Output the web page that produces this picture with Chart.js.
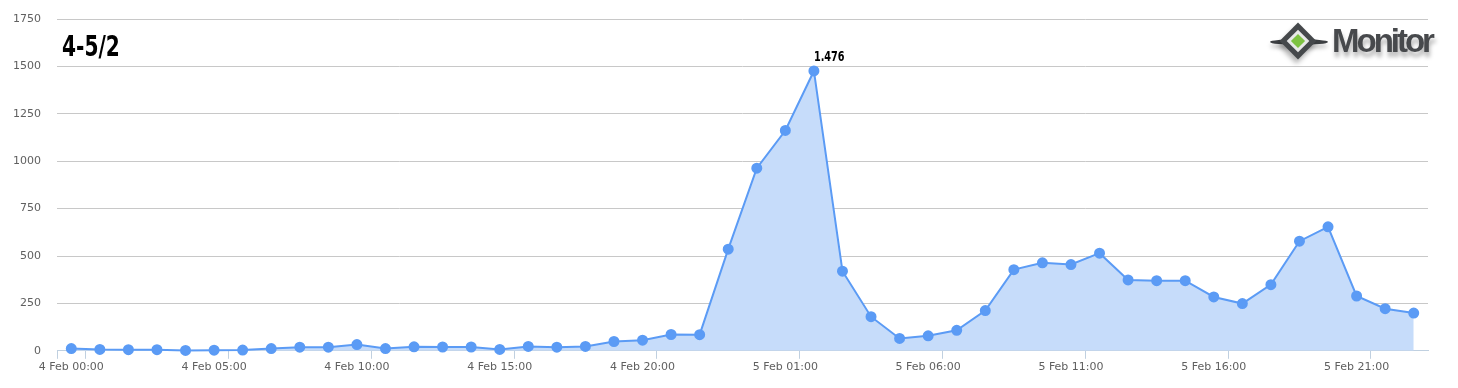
<!DOCTYPE html>
<html>
<head>
  <title>4-5/2</title>
  <script src="https://cdn.jsdelivr.net/npm/chart.js"></script>
  <style>
    body { margin: 0; background: #fff; }
    #wrap { position: relative; width: 1458px; height: 388px; }
    #title {
      position: absolute; left: 62px; top: 33px;
      font: bold 28px "Liberation Sans Narrow", "DejaVu Sans Condensed", sans-serif;
      line-height: 28px; color: #000;
      transform: scaleX(0.8); transform-origin: left top;
    }
    #logo { position: absolute; left: 1268px; top: 22px; height: 40px; width: 180px; }
    #logo .wing {
      position: absolute; left: 2px; top: 17px; width: 58px; height: 6px;
      border-radius: 50%; background: #3c3f42; box-shadow: 0 4px 4px rgba(0,0,0,0.25);
    }
    #logo .d1, #logo .d2, #logo .d3 { position: absolute; transform: rotate(45deg); }
    #logo .d1 { left: 17px; top: 6px; width: 26px; height: 26px; background: #45484b; box-shadow: 2px 4px 5px rgba(0,0,0,0.3); }
    #logo .d2 { left: 22px; top: 11px; width: 16px; height: 16px; background: #e8e8e8; }
    #logo .d3 { left: 25px; top: 14px; width: 10px; height: 10px; background: #7ec242; }
    #logo .txt {
      position: absolute; left: 64px; top: 0px;
      font: bold 33px "Liberation Sans", Arial, sans-serif; letter-spacing: -3px;
      color: #47494c; text-shadow: 1px 5px 4px rgba(0,0,0,0.3);
    }
  </style>
</head>
<body>
<div id="wrap">
  <canvas id="myChart"></canvas>
  <div id="title">4-5/2</div>
  <div id="logo"><div class="wing"></div><div class="d1"></div><div class="d2"></div><div class="d3"></div><div class="txt">Monitor</div></div>
</div>
<script>
  // hourly categories, 4 Feb 00:00 .. 5 Feb 23:00
  var hourLabels = [
    '4 Feb 00:00','4 Feb 01:00','4 Feb 02:00','4 Feb 03:00','4 Feb 04:00','4 Feb 05:00',
    '4 Feb 06:00','4 Feb 07:00','4 Feb 08:00','4 Feb 09:00','4 Feb 10:00','4 Feb 11:00',
    '4 Feb 12:00','4 Feb 13:00','4 Feb 14:00','4 Feb 15:00','4 Feb 16:00','4 Feb 17:00',
    '4 Feb 18:00','4 Feb 19:00','4 Feb 20:00','4 Feb 21:00','4 Feb 22:00','4 Feb 23:00',
    '5 Feb 00:00','5 Feb 01:00','5 Feb 02:00','5 Feb 03:00','5 Feb 04:00','5 Feb 05:00',
    '5 Feb 06:00','5 Feb 07:00','5 Feb 08:00','5 Feb 09:00','5 Feb 10:00','5 Feb 11:00',
    '5 Feb 12:00','5 Feb 13:00','5 Feb 14:00','5 Feb 15:00','5 Feb 16:00','5 Feb 17:00',
    '5 Feb 18:00','5 Feb 19:00','5 Feb 20:00','5 Feb 21:00','5 Feb 22:00','5 Feb 23:00'
  ];
  var mentions = [
    12, 7, 6, 6, 2, 3, 4, 12, 19, 19, 33, 12,
    21, 20, 20, 7, 23, 19, 23, 49, 56, 86, 85, 536,
    963, 1162, 1476, 420, 180, 65, 79, 108, 212, 428, 464, 455,
    515, 374, 370, 370, 284, 249, 349, 578, 654, 289, 222, 199
  ];
  var yTicks = [0, 250, 500, 750, 1000, 1250, 1500, 1750];
  var peakLabel = '1.476';

  var peakIndex = mentions.indexOf(Math.max.apply(null, mentions));

  // writes the peak value just above its point
  var peakPlugin = {
    id: 'peakLabel',
    afterDatasetsDraw: function(chart) {
      var pt = chart.getDatasetMeta(0).data[peakIndex];
      var ctx = chart.ctx;
      ctx.save();
      ctx.translate(pt.x, pt.y - 10);
      ctx.scale(0.77, 1);
      ctx.font = 'bold 14px "Liberation Sans Narrow", "DejaVu Sans Condensed", sans-serif';
      ctx.fillStyle = '#000';
      ctx.textAlign = 'left';
      ctx.textBaseline = 'alphabetic';
      ctx.fillText(peakLabel, 0, 0);
      ctx.restore();
    }
  };

  var ctx = document.getElementById('myChart').getContext('2d');
  new Chart(ctx, {
    type: 'line',
    data: {
      labels: hourLabels,
      datasets: [{
        data: mentions,
        borderColor: '#5b9bf5',
        backgroundColor: 'rgba(198,220,250,1)',
        pointBackgroundColor: '#5b9bf5',
        pointBorderColor: '#5b9bf5',
        pointRadius: 4.5,
        borderWidth: 2,
        tension: 0,
        fill: 'origin',
        clip: 8
      }]
    },
    plugins: [peakPlugin],
    options: {
      responsive: true,
      maintainAspectRatio: false,
      animation: false,
      layout: { autoPadding: false, padding: { left: 13, right: 30, top: 19, bottom: 12 } },
      plugins: { legend: { display: false }, tooltip: { enabled: false } },
      scales: {
        x: {
          offset: true,
          afterFit: function(axis) { axis.paddingLeft = 0; axis.paddingRight = 0; },
          grid: {
            offset: true,
            drawOnChartArea: false,
            tickLength: 8,
            color: function(c) { return (c.index === 0 || c.index % 5 === 1) ? '#c0d0e0' : 'rgba(0,0,0,0)'; }
          },
          border: { display: true, color: '#c0d0e0', width: 1 },
          ticks: {
            autoSkip: false,
            maxRotation: 0,
            padding: 2,
            color: '#606060',
            font: { family: 'DejaVu Sans', size: 11 },
            callback: function(v, i) { return i % 5 === 0 ? hourLabels[i] : ''; }
          }
        },
        y: {
          min: yTicks[0],
          max: yTicks[yTicks.length - 1],
          afterBuildTicks: function(axis) { axis.ticks = yTicks.map(function(v) { return { value: v }; }); },
          afterFit: function(axis) { axis.width = 44; axis.paddingTop = 0; axis.paddingBottom = 0; },
          grid: { color: '#c8c8c8', drawTicks: false },
          border: { display: false },
          ticks: {
            padding: 16,
            color: '#606060',
            font: { family: 'DejaVu Sans', size: 11 },
            callback: function(v) { return String(v); }
          }
        }
      }
    }
  });
</script>
</body>
</html>
